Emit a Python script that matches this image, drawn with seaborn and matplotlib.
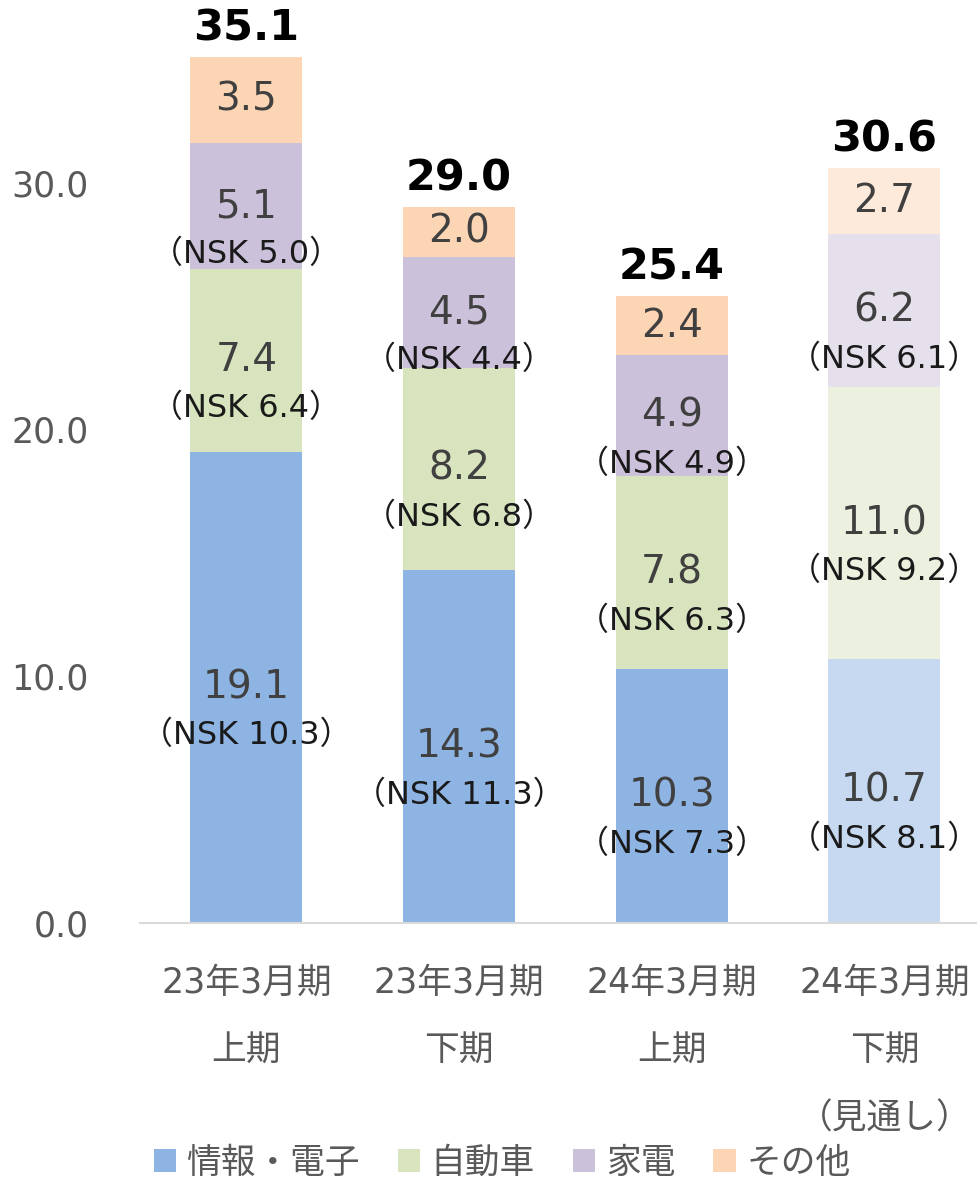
import pandas as pd
import seaborn as sns
import matplotlib.pyplot as plt
from matplotlib.patches import Patch

sns.set_theme(style="white")
plt.rcParams['font.family'] = ['DejaVu Sans', 'Noto Sans CJK JP']

# data
periods = ["23年3月期\n上期", "23年3月期\n下期", "24年3月期\n上期", "24年3月期\n下期\n（見通し）"]
segments = ["情報・電子", "自動車", "家電", "その他"]
info_elec = [19.1, 14.3, 10.3, 10.7]
auto = [7.4, 8.2, 7.8, 11.0]
appliance = [5.1, 4.5, 4.9, 6.2]
other = [3.5, 2.0, 2.4, 2.7]
nsk_info_elec = [10.3, 11.3, 7.3, 8.1]
nsk_auto = [6.4, 6.8, 6.3, 9.2]
nsk_appliance = [5.0, 4.4, 4.9, 6.1]
totals = [35.1, 29.0, 25.4, 30.6]

colors = ["#8EB4E3", "#D7E4BD", "#CCC1DA", "#FCD5B5"]
colors_light = ["#C6D9F1", "#EBF1DE", "#E6E0EC", "#FDEADA"]

df = pd.DataFrame({"period": periods, "info": info_elec, "auto": auto,
                   "appl": appliance, "other": other})
df["c1"] = df["info"]
df["c2"] = df["c1"] + df["auto"]
df["c3"] = df["c2"] + df["appl"]
df["c4"] = df["c3"] + df["other"]

fig = plt.figure(figsize=(9.78, 11.83), dpi=100)
ax = fig.add_axes([140 / 978, (1183 - 923) / 1183, 1 - 140 / 978, 923 / 1183])

# stacked bars: draw cumulative heights from the top down
for col, i in zip(["c4", "c3", "c2", "c1"], [3, 2, 1, 0]):
    pal = [colors[i]] * 3 + [colors_light[i]]
    sns.barplot(data=df, x="period", y=col, hue="period", palette=pal,
                legend=False, width=0.527, saturation=1, linewidth=0, ax=ax)

ax.set_xlim(-0.5, 3.44)
ax.set_ylim(0, 37.4)
ax.set_yticks([0, 10, 20, 30])
ax.set_yticklabels(["0.0", "10.0", "20.0", "30.0"])
ax.set_xlabel("")
ax.set_ylabel("")
for s in ["top", "right", "left"]:
    ax.spines[s].set_visible(False)
ax.spines["bottom"].set_color("#D9D9D9")
ax.spines["bottom"].set_linewidth(1.5)
ax.tick_params(axis="y", length=0, pad=37, labelsize=25, labelcolor="#595959")
ax.tick_params(axis="x", length=0, pad=31, labelsize=25, labelcolor="#595959")
for lab in ax.get_xticklabels():
    lab.set_linespacing(2.25)
    lab.set_verticalalignment("top")

# segment labels
bottoms = [[0] * 4, df["c1"].tolist(), df["c2"].tolist(), df["c3"].tolist()]
vals = [info_elec, auto, appliance, other]
nsks = [nsk_info_elec, nsk_auto, nsk_appliance, None]
for k in range(4):
    for j in range(4):
        yc = bottoms[k][j] + vals[k][j] / 2
        ax.text(j, yc, f"{vals[k][j]:.1f}", ha="center", va="center",
                fontsize=28, color="#404040")
        if nsks[k] is not None:
            ax.annotate(f"（NSK {nsks[k][j]:.1f}）", (j, yc), xytext=(0, -35),
                        textcoords="offset points", ha="center", va="center",
                        fontsize=23, color="#1a1a1a")

for j, t in enumerate(totals):
    ax.annotate(f"{t:.1f}", (j, df["c4"][j]), xytext=(0, 12),
                textcoords="offset points", ha="center", va="baseline",
                fontsize=31, fontweight="bold", color="black")

handles = [Patch(facecolor=c, edgecolor="none") for c in colors]
fig.legend(handles, segments, loc="center", bbox_to_anchor=(502 / 978, 20 / 1183),
           ncol=4, frameon=False, fontsize=25, handlelength=0.64, handleheight=0.64,
           handletextpad=0.3, columnspacing=1.1, labelcolor="#595959")

fig.savefig("out.png", dpi=100)
